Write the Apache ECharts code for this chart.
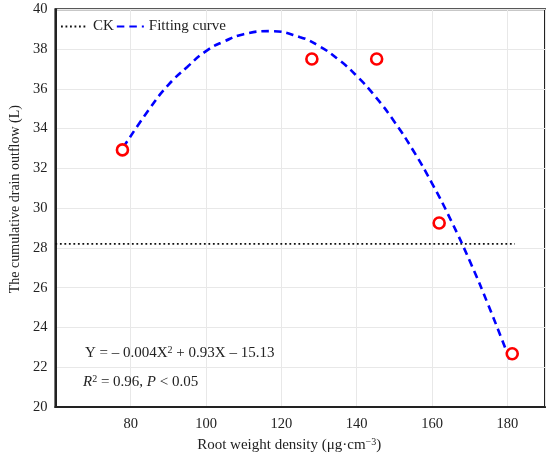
<!DOCTYPE html>
<html>
<head>
<meta charset="utf-8">
<script src="https://cdn.jsdelivr.net/npm/echarts@6/dist/echarts.min.js"></script>
<style>
html,body{margin:0;padding:0;background:#fff;}
#c{width:550px;height:458px;}
</style>
</head>
<body>
<div id="c"></div>
<script>
// Observed points (red circles)
const pointX = [77.8, 128.1, 145.3, 161.9, 181.3];
const pointY = [32.93, 37.5, 37.5, 29.25, 22.68];
// CK reference line
const ckX = [60, 182];
const ckY = [28.2, 28.2];
// Fitting curve
const curveX = [78, 85, 90, 95, 100, 105, 110, 117, 125, 130, 135, 140, 145, 150, 155, 160, 165, 170, 175, 181];
const curveY = [33.05, 35.0, 36.2, 37.1, 37.9, 38.4, 38.75, 38.9, 38.6, 38.15, 37.5, 36.65, 35.6, 34.35, 32.9, 31.25, 29.4, 27.35, 25.1, 22.2];
// Axis ticks
const xTicks = { min: 60, max: 190, interval: 20 };
const yTicks = { min: 20, max: 40, interval: 2 };
const hiddenXLabels = [60, 190];

const FONT = "'Liberation Serif', 'Times New Roman', serif";
const zip = (a, b) => a.map((v, i) => [v, b[i]]);

const chart = echarts.init(document.getElementById('c'), null, { renderer: 'canvas' });
chart.setOption({
  animation: false,
  backgroundColor: '#fff',
  textStyle: { fontFamily: FONT, color: '#222' },
  grid: {
    left: 47, right: 5, top: 9.3, bottom: 48.7,
    show: true, borderColor: '#222', borderWidth: 2, backgroundColor: 'transparent'
  },
  legend: {
    left: 55, top: 14,
    itemWidth: 27, itemHeight: 14, itemGap: 2,
    itemStyle: { opacity: 0 },
    textStyle: { fontFamily: FONT, fontSize: 15, color: '#222' },
    data: ['CK', 'Fitting curve']
  },
  xAxis: {
    type: 'value',
    min: xTicks.min, max: xTicks.max, interval: xTicks.interval,
    name: '{a|Root weight density (μg·cm}{s|−3}{a|)}',
    nameLocation: 'middle', nameGap: 30,
    nameTextStyle: {
      fontFamily: FONT, fontSize: 15, color: '#222', padding: [0, 22, 0, 0],
      rich: {
        a: { fontFamily: FONT, fontSize: 15, color: '#222', lineHeight: 17 },
        s: { fontFamily: FONT, fontSize: 10, color: '#222', verticalAlign: 'top', lineHeight: 17 }
      }
    },
    axisLine: { show: true, lineStyle: { color: '#222', width: 2 } },
    axisTick: { show: false },
    axisLabel: {
      margin: 10, fontFamily: FONT, fontSize: 14.5, color: '#222',
      formatter: v => hiddenXLabels.includes(v) ? '' : String(v)
    },
    splitLine: { show: true, lineStyle: { color: '#e8e8e8', width: 1 } }
  },
  yAxis: {
    type: 'value',
    min: yTicks.min, max: yTicks.max, interval: yTicks.interval,
    name: 'The cumulative drain outflow (L)',
    nameLocation: 'middle', nameGap: 26,
    nameTextStyle: { fontFamily: FONT, fontSize: 14, color: '#222', padding: [0, 0, 0, 18] },
    axisLine: { show: true, lineStyle: { color: '#222', width: 2 } },
    axisTick: { show: false },
    axisLabel: { margin: 8, fontFamily: FONT, fontSize: 14.5, color: '#222' },
    splitLine: { show: true, lineStyle: { color: '#e8e8e8', width: 1 } }
  },
  series: [
    {
      name: 'CK', type: 'line', data: zip(ckX, ckY),
      symbol: 'none', z: 3,
      lineStyle: { color: '#111', width: 1.8, type: [1.8, 2.7] },
      itemStyle: { color: '#111' }
    },
    {
      name: 'Fitting curve', type: 'line', data: zip(curveX, curveY),
      symbol: 'none', smooth: true, z: 4,
      lineStyle: { color: '#0000ff', width: 2.6, type: [7.5, 5] },
      itemStyle: { color: '#0000ff' }
    },
    {
      name: 'Observed', type: 'scatter', data: zip(pointX, pointY),
      symbol: 'circle', symbolSize: 11, z: 5,
      itemStyle: { color: '#fff', borderColor: '#ff0000', borderWidth: 2.6, opacity: 1 }
    }
  ],
  graphic: [
    {
      type: 'text', left: 85, top: 345, z: 10,
      style: {
        text: '{a|Y = – 0.004X}{s|2}{a| + 0.93X – 15.13}',
        rich: {
          a: { fontFamily: FONT, fontSize: 15, fill: '#222', lineHeight: 17 },
          s: { fontFamily: FONT, fontSize: 10, fill: '#222', verticalAlign: 'top', lineHeight: 17 }
        }
      }
    },
    {
      type: 'text', left: 83, top: 374, z: 10,
      style: {
        text: '{i|R}{s|2}{a| = 0.96, }{i|P}{a| < 0.05}',
        rich: {
          a: { fontFamily: FONT, fontSize: 15, fill: '#222', lineHeight: 17 },
          i: { fontFamily: FONT, fontSize: 15, fontStyle: 'italic', fill: '#222', lineHeight: 17 },
          s: { fontFamily: FONT, fontSize: 10, fill: '#222', verticalAlign: 'top', lineHeight: 17 }
        }
      }
    }
  ]
});
</script>
</body>
</html>
